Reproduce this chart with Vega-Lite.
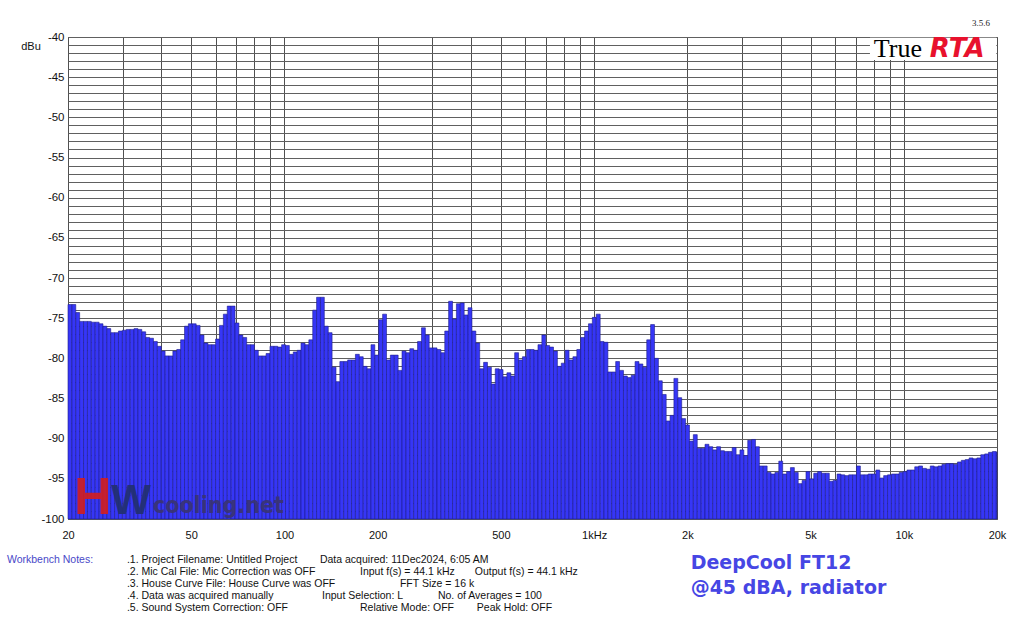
{
  "$schema": "https://vega.github.io/schema/vega-lite/v6.json",
  "width": 929,
  "height": 482,
  "autosize": {"type": "none"},
  "padding": {"left": 68, "top": 37, "right": 27, "bottom": 105},
  "background": "white",
  "config": {
    "view": {"stroke": "#444444", "strokeWidth": 1},
    "font": "Liberation Sans",
    "text": {"font": "Liberation Sans"}
  },
  "data": {"values": [{}]},
  "layer": [
    {
      "data": {"values": [
        {"lo": 20, "hi": 20.59, "db": -73.3}, {"lo": 20.59, "hi": 21.19, "db": -73.3}, {"lo": 21.19, "hi": 21.81, "db": -74.3}, {"lo": 21.81, "hi": 22.45, "db": -75.4},
        {"lo": 22.45, "hi": 23.11, "db": -75.4}, {"lo": 23.11, "hi": 23.78, "db": -75.4}, {"lo": 23.78, "hi": 24.48, "db": -75.5}, {"lo": 24.48, "hi": 25.2, "db": -75.5},
        {"lo": 25.2, "hi": 25.94, "db": -75.7}, {"lo": 25.94, "hi": 26.7, "db": -76.0}, {"lo": 26.7, "hi": 27.48, "db": -76.3}, {"lo": 27.48, "hi": 28.28, "db": -76.8},
        {"lo": 28.28, "hi": 29.11, "db": -76.8}, {"lo": 29.11, "hi": 29.97, "db": -76.6}, {"lo": 29.97, "hi": 30.84, "db": -76.5}, {"lo": 30.84, "hi": 31.75, "db": -76.4},
        {"lo": 31.75, "hi": 32.68, "db": -76.4}, {"lo": 32.68, "hi": 33.64, "db": -76.3}, {"lo": 33.64, "hi": 34.62, "db": -76.4}, {"lo": 34.62, "hi": 35.64, "db": -76.7},
        {"lo": 35.64, "hi": 36.68, "db": -77.4}, {"lo": 36.68, "hi": 37.76, "db": -77.5}, {"lo": 37.76, "hi": 38.86, "db": -77.9}, {"lo": 38.86, "hi": 40, "db": -78.5},
        {"lo": 40, "hi": 41.17, "db": -79.1}, {"lo": 41.17, "hi": 42.38, "db": -79.7}, {"lo": 42.38, "hi": 43.62, "db": -79.7}, {"lo": 43.62, "hi": 44.9, "db": -79.1},
        {"lo": 44.9, "hi": 46.21, "db": -78.9}, {"lo": 46.21, "hi": 47.57, "db": -77.7}, {"lo": 47.57, "hi": 48.96, "db": -76.0}, {"lo": 48.96, "hi": 50.4, "db": -75.7},
        {"lo": 50.4, "hi": 51.87, "db": -75.7}, {"lo": 51.87, "hi": 53.39, "db": -75.9}, {"lo": 53.39, "hi": 54.96, "db": -77.1}, {"lo": 54.96, "hi": 56.57, "db": -78.1},
        {"lo": 56.57, "hi": 58.23, "db": -78.3}, {"lo": 58.23, "hi": 59.93, "db": -78.3}, {"lo": 59.93, "hi": 61.69, "db": -77.6}, {"lo": 61.69, "hi": 63.5, "db": -75.9},
        {"lo": 63.5, "hi": 65.36, "db": -74.5}, {"lo": 65.36, "hi": 67.27, "db": -73.5}, {"lo": 67.27, "hi": 69.24, "db": -73.5}, {"lo": 69.24, "hi": 71.27, "db": -75.6},
        {"lo": 71.27, "hi": 73.36, "db": -77.1}, {"lo": 73.36, "hi": 75.51, "db": -77.4}, {"lo": 75.51, "hi": 77.72, "db": -78.3}, {"lo": 77.72, "hi": 80, "db": -78.3},
        {"lo": 80, "hi": 82.34, "db": -79.0}, {"lo": 82.34, "hi": 84.76, "db": -79.7}, {"lo": 84.76, "hi": 87.24, "db": -79.7}, {"lo": 87.24, "hi": 89.8, "db": -79.4},
        {"lo": 89.8, "hi": 92.43, "db": -78.5}, {"lo": 92.43, "hi": 95.14, "db": -78.5}, {"lo": 95.14, "hi": 97.92, "db": -78.6}, {"lo": 97.92, "hi": 100.8, "db": -78.3},
        {"lo": 100.8, "hi": 103.7, "db": -78.4}, {"lo": 103.7, "hi": 106.8, "db": -79.5}, {"lo": 106.8, "hi": 109.9, "db": -79.2}, {"lo": 109.9, "hi": 113.1, "db": -79.0},
        {"lo": 113.1, "hi": 116.5, "db": -78.1}, {"lo": 116.5, "hi": 119.9, "db": -78.3}, {"lo": 119.9, "hi": 123.4, "db": -77.7}, {"lo": 123.4, "hi": 127, "db": -74.0},
        {"lo": 127, "hi": 130.7, "db": -72.4}, {"lo": 130.7, "hi": 134.5, "db": -72.4}, {"lo": 134.5, "hi": 138.5, "db": -76.0}, {"lo": 138.5, "hi": 142.5, "db": -76.8},
        {"lo": 142.5, "hi": 146.7, "db": -81.1}, {"lo": 146.7, "hi": 151, "db": -82.9}, {"lo": 151, "hi": 155.4, "db": -80.4}, {"lo": 155.4, "hi": 160, "db": -80.4},
        {"lo": 160, "hi": 164.7, "db": -80.2}, {"lo": 164.7, "hi": 169.5, "db": -80.2}, {"lo": 169.5, "hi": 174.5, "db": -79.5}, {"lo": 174.5, "hi": 179.6, "db": -79.8},
        {"lo": 179.6, "hi": 184.9, "db": -81.0}, {"lo": 184.9, "hi": 190.3, "db": -81.3}, {"lo": 190.3, "hi": 195.8, "db": -78.3}, {"lo": 195.8, "hi": 201.6, "db": -79.6},
        {"lo": 201.6, "hi": 207.5, "db": -75.2}, {"lo": 207.5, "hi": 213.6, "db": -74.5}, {"lo": 213.6, "hi": 219.8, "db": -80.2}, {"lo": 219.8, "hi": 226.3, "db": -79.6},
        {"lo": 226.3, "hi": 232.9, "db": -79.6}, {"lo": 232.9, "hi": 239.7, "db": -81.5}, {"lo": 239.7, "hi": 246.8, "db": -79.1}, {"lo": 246.8, "hi": 254, "db": -79.3},
        {"lo": 254, "hi": 261.4, "db": -78.8}, {"lo": 261.4, "hi": 269.1, "db": -79.0}, {"lo": 269.1, "hi": 277, "db": -77.9}, {"lo": 277, "hi": 285.1, "db": -76.2},
        {"lo": 285.1, "hi": 293.4, "db": -77.1}, {"lo": 293.4, "hi": 302, "db": -78.7}, {"lo": 302, "hi": 310.9, "db": -78.7}, {"lo": 310.9, "hi": 320, "db": -78.9},
        {"lo": 320, "hi": 329.4, "db": -79.3}, {"lo": 329.4, "hi": 339, "db": -76.6}, {"lo": 339, "hi": 349, "db": -72.9}, {"lo": 349, "hi": 359.2, "db": -75.1},
        {"lo": 359.2, "hi": 369.7, "db": -73.2}, {"lo": 369.7, "hi": 380.5, "db": -73.1}, {"lo": 380.5, "hi": 391.7, "db": -74.6}, {"lo": 391.7, "hi": 403.2, "db": -73.7},
        {"lo": 403.2, "hi": 415, "db": -76.6}, {"lo": 415, "hi": 427.1, "db": -78.1}, {"lo": 427.1, "hi": 439.7, "db": -81.3}, {"lo": 439.7, "hi": 452.5, "db": -80.5},
        {"lo": 452.5, "hi": 465.8, "db": -81.1}, {"lo": 465.8, "hi": 479.5, "db": -83.2}, {"lo": 479.5, "hi": 493.5, "db": -81.3}, {"lo": 493.5, "hi": 508, "db": -81.4},
        {"lo": 508, "hi": 522.9, "db": -82.3}, {"lo": 522.9, "hi": 538.2, "db": -81.8}, {"lo": 538.2, "hi": 553.9, "db": -82.2}, {"lo": 553.9, "hi": 570.2, "db": -79.3},
        {"lo": 570.2, "hi": 586.9, "db": -80.2}, {"lo": 586.9, "hi": 604.1, "db": -79.8}, {"lo": 604.1, "hi": 621.8, "db": -78.9}, {"lo": 621.8, "hi": 640, "db": -78.9},
        {"lo": 640, "hi": 658.8, "db": -79.0}, {"lo": 658.8, "hi": 678.1, "db": -78.3}, {"lo": 678.1, "hi": 697.9, "db": -77.1}, {"lo": 697.9, "hi": 718.4, "db": -78.4},
        {"lo": 718.4, "hi": 739.4, "db": -78.6}, {"lo": 739.4, "hi": 761.1, "db": -79.1}, {"lo": 761.1, "hi": 783.4, "db": -81.0}, {"lo": 783.4, "hi": 806.3, "db": -80.6},
        {"lo": 806.3, "hi": 830, "db": -79.0}, {"lo": 830, "hi": 854.3, "db": -80.2}, {"lo": 854.3, "hi": 879.3, "db": -79.8}, {"lo": 879.3, "hi": 905.1, "db": -78.9},
        {"lo": 905.1, "hi": 931.6, "db": -77.4}, {"lo": 931.6, "hi": 958.9, "db": -76.6}, {"lo": 958.9, "hi": 987, "db": -75.7}, {"lo": 987, "hi": 1016, "db": -74.9},
        {"lo": 1016, "hi": 1046, "db": -74.5}, {"lo": 1046, "hi": 1076, "db": -77.9}, {"lo": 1076, "hi": 1108, "db": -78.0}, {"lo": 1108, "hi": 1140, "db": -81.7},
        {"lo": 1140, "hi": 1174, "db": -81.7}, {"lo": 1174, "hi": 1208, "db": -80.4}, {"lo": 1208, "hi": 1244, "db": -81.5}, {"lo": 1244, "hi": 1280, "db": -82.2},
        {"lo": 1280, "hi": 1318, "db": -82.4}, {"lo": 1318, "hi": 1356, "db": -82.1}, {"lo": 1356, "hi": 1396, "db": -80.4}, {"lo": 1396, "hi": 1437, "db": -80.7},
        {"lo": 1437, "hi": 1479, "db": -81.1}, {"lo": 1479, "hi": 1522, "db": -77.7}, {"lo": 1522, "hi": 1567, "db": -75.8}, {"lo": 1567, "hi": 1613, "db": -80.0},
        {"lo": 1613, "hi": 1660, "db": -82.8}, {"lo": 1660, "hi": 1709, "db": -84.5}, {"lo": 1709, "hi": 1759, "db": -87.8}, {"lo": 1759, "hi": 1810, "db": -87.1},
        {"lo": 1810, "hi": 1863, "db": -82.5}, {"lo": 1863, "hi": 1918, "db": -84.9}, {"lo": 1918, "hi": 1974, "db": -87.5}, {"lo": 1974, "hi": 2032, "db": -88.3},
        {"lo": 2032, "hi": 2091, "db": -90.3}, {"lo": 2091, "hi": 2153, "db": -89.5}, {"lo": 2153, "hi": 2216, "db": -91.2}, {"lo": 2216, "hi": 2281, "db": -91.2},
        {"lo": 2281, "hi": 2348, "db": -90.7}, {"lo": 2348, "hi": 2416, "db": -91.0}, {"lo": 2416, "hi": 2487, "db": -91.4}, {"lo": 2487, "hi": 2560, "db": -91.0},
        {"lo": 2560, "hi": 2635, "db": -91.5}, {"lo": 2635, "hi": 2712, "db": -91.6}, {"lo": 2712, "hi": 2792, "db": -91.6}, {"lo": 2792, "hi": 2874, "db": -91.1},
        {"lo": 2874, "hi": 2958, "db": -92.0}, {"lo": 2958, "hi": 3044, "db": -91.4}, {"lo": 3044, "hi": 3134, "db": -92.1}, {"lo": 3134, "hi": 3225, "db": -90.2},
        {"lo": 3225, "hi": 3320, "db": -90.1}, {"lo": 3320, "hi": 3417, "db": -91.0}, {"lo": 3417, "hi": 3517, "db": -93.4}, {"lo": 3517, "hi": 3620, "db": -93.4},
        {"lo": 3620, "hi": 3727, "db": -94.2}, {"lo": 3727, "hi": 3836, "db": -94.4}, {"lo": 3836, "hi": 3948, "db": -94.2}, {"lo": 3948, "hi": 4064, "db": -92.8},
        {"lo": 4064, "hi": 4183, "db": -94.4}, {"lo": 4183, "hi": 4305, "db": -94.1}, {"lo": 4305, "hi": 4432, "db": -93.6}, {"lo": 4432, "hi": 4561, "db": -94.2},
        {"lo": 4561, "hi": 4695, "db": -95.6}, {"lo": 4695, "hi": 4833, "db": -95.2}, {"lo": 4833, "hi": 4974, "db": -94.1}, {"lo": 4974, "hi": 5120, "db": -95.0},
        {"lo": 5120, "hi": 5270, "db": -94.3}, {"lo": 5270, "hi": 5424, "db": -94.1}, {"lo": 5424, "hi": 5583, "db": -94.3}, {"lo": 5583, "hi": 5747, "db": -94.3},
        {"lo": 5747, "hi": 5915, "db": -95.3}, {"lo": 5915, "hi": 6089, "db": -95.2}, {"lo": 6089, "hi": 6267, "db": -94.4}, {"lo": 6267, "hi": 6451, "db": -94.5},
        {"lo": 6451, "hi": 6640, "db": -94.6}, {"lo": 6640, "hi": 6834, "db": -94.5}, {"lo": 6834, "hi": 7035, "db": -94.5}, {"lo": 7035, "hi": 7241, "db": -93.4},
        {"lo": 7241, "hi": 7453, "db": -94.5}, {"lo": 7453, "hi": 7671, "db": -94.5}, {"lo": 7671, "hi": 7896, "db": -94.4}, {"lo": 7896, "hi": 8127, "db": -94.4},
        {"lo": 8127, "hi": 8366, "db": -93.9}, {"lo": 8366, "hi": 8611, "db": -94.9}, {"lo": 8611, "hi": 8863, "db": -94.6}, {"lo": 8863, "hi": 9123, "db": -94.5},
        {"lo": 9123, "hi": 9390, "db": -94.4}, {"lo": 9390, "hi": 9665, "db": -94.4}, {"lo": 9665, "hi": 9949, "db": -94.2}, {"lo": 9949, "hi": 10240, "db": -94.1},
        {"lo": 10240, "hi": 10540, "db": -93.9}, {"lo": 10540, "hi": 10849, "db": -93.9}, {"lo": 10849, "hi": 11167, "db": -93.5}, {"lo": 11167, "hi": 11494, "db": -93.4},
        {"lo": 11494, "hi": 11831, "db": -93.7}, {"lo": 11831, "hi": 12177, "db": -93.8}, {"lo": 12177, "hi": 12534, "db": -93.4}, {"lo": 12534, "hi": 12902, "db": -93.5},
        {"lo": 12902, "hi": 13280, "db": -93.4}, {"lo": 13280, "hi": 13669, "db": -93.2}, {"lo": 13669, "hi": 14069, "db": -93.1}, {"lo": 14069, "hi": 14482, "db": -93.1},
        {"lo": 14482, "hi": 14906, "db": -93.2}, {"lo": 14906, "hi": 15343, "db": -92.9}, {"lo": 15343, "hi": 15792, "db": -92.7}, {"lo": 15792, "hi": 16255, "db": -92.6},
        {"lo": 16255, "hi": 16731, "db": -92.4}, {"lo": 16731, "hi": 17222, "db": -92.5}, {"lo": 17222, "hi": 17726, "db": -92.4}, {"lo": 17726, "hi": 18246, "db": -92.0},
        {"lo": 18246, "hi": 18780, "db": -91.9}, {"lo": 18780, "hi": 19331, "db": -91.7}, {"lo": 19331, "hi": 19898, "db": -91.6}, {"lo": 19898, "hi": 20000, "db": -91.7}
      ]},
      "mark": {"type": "bar", "fill": "#3636f6", "stroke": "#1c1c8c", "strokeWidth": 0.6},
      "encoding": {
        "x": {
          "field": "lo",
          "type": "quantitative",
          "scale": {"type": "log", "domain": [20, 20000], "nice": false},
          "axis": {
            "title": null,
            "values": [20, 30, 40, 50, 60, 70, 80, 90, 100, 200, 300, 400, 500, 600, 700, 800, 900, 1000, 2000, 3000, 4000, 5000, 6000, 7000, 8000, 9000, 10000, 20000],
            "tickCount": 100,
            "labelExpr": "datum.value == 1000 ? '1kHz' : indexof([2000, 5000, 10000, 20000], datum.value) >= 0 ? (datum.value / 1000) + 'k' : indexof([20, 50, 100, 200, 500], datum.value) >= 0 ? '' + datum.value : ''",
            "labelOverlap": false,
            "labelFlush": false,
            "ticks": false,
            "domain": false,
            "grid": true,
            "gridColor": "#505050",
            "gridOpacity": 1,
            "labelFontSize": 11,
            "labelColor": "#111111",
            "labelPadding": 10
          }
        },
        "x2": {"field": "hi"},
        "y": {
          "field": "db",
          "type": "quantitative",
          "scale": {"domain": [-100, -40], "nice": false, "zero": false},
          "axis": {
            "title": null,
            "values": [-100, -99, -98, -97, -96, -95, -94, -93, -92, -91, -90, -89, -88, -87, -86, -85, -84, -83, -82, -81, -80, -79, -78, -77, -76, -75, -74, -73, -72, -71, -70, -69, -68, -67, -66, -65, -64, -63, -62, -61, -60, -59, -58, -57, -56, -55, -54, -53, -52, -51, -50, -49, -48, -47, -46, -45, -44, -43, -42, -41, -40],
            "tickCount": 200,
            "labelExpr": "datum.value % 5 == 0 ? '' + datum.value : ''",
            "labelOverlap": false,
            "ticks": false,
            "domain": false,
            "grid": true,
            "gridColor": "#606060",
            "gridOpacity": 1,
            "labelFontSize": 11.5,
            "labelColor": "#111111",
            "labelPadding": 4
          }
        },
        "y2": {"datum": -100}
      }
    },
    {
      "mark": {"type": "rect", "fill": "white"},
      "encoding": {"x": {"datum": 7776}, "x2": {"datum": 19900}, "y": {"datum": -40.1}, "y2": {"datum": -42.86}}
    },
    {
      "mark": {"type": "text", "text": "True", "font": "Liberation Serif", "fontSize": 26, "align": "left", "baseline": "alphabetic", "fill": "black"},
      "encoding": {"x": {"datum": 8000}, "y": {"datum": -42.45}}
    },
    {
      "mark": {"type": "text", "text": "RTA", "font": "DejaVu Sans", "fontWeight": "bold", "fontStyle": "italic", "fontSize": 26, "align": "left", "baseline": "alphabetic", "fill": "#e8112d"},
      "encoding": {"x": {"datum": 12140}, "y": {"datum": -42.45}}
    },
    {
      "mark": {"type": "text", "text": "3.5.6", "font": "Liberation Serif", "fontSize": 9, "align": "right", "baseline": "middle", "fill": "#222222"},
      "encoding": {"x": {"datum": 18970}, "y": {"datum": -38.26}}
    },
    {
      "mark": {"type": "text", "text": "dBu", "fontSize": 11, "align": "center", "baseline": "middle", "fill": "#111111"},
      "encoding": {"x": {"datum": 15.19}, "y": {"datum": -41.24}}
    },
    {
      "mark": {"type": "text", "text": "H", "fontSize": 52, "fontWeight": "bold", "align": "left", "baseline": "alphabetic", "fill": "#d41e1e", "opacity": 0.9},
      "encoding": {"x": {"datum": 20.9}, "y": {"datum": -99.38}}
    },
    {
      "mark": {"type": "text", "text": "W", "fontSize": 42, "fontWeight": "bold", "align": "left", "baseline": "alphabetic", "fill": "#22306e", "opacity": 0.9},
      "encoding": {"x": {"datum": 27.6}, "y": {"datum": -99.38}}
    },
    {
      "mark": {"type": "text", "text": "cooling.net", "font": "DejaVu Sans Condensed", "fontSize": 23, "fontWeight": "bold", "align": "left", "baseline": "alphabetic", "fill": "#3a3470", "opacity": 0.9},
      "encoding": {"x": {"datum": 37.6}, "y": {"datum": -99.26}}
    },
    {
      "mark": {"type": "text", "text": "Workbench Notes:", "fontSize": 10.5, "align": "left", "baseline": "middle", "fill": "#4848c8"},
      "encoding": {"x": {"datum": 12.7}, "y": {"datum": -105.11}}
    },
    {
      "mark": {"type": "text", "text": ".1. Project Filename: Untitled Project", "fontSize": 10.5, "align": "left", "baseline": "middle", "fill": "#111111"},
      "encoding": {"x": {"datum": 31.0}, "y": {"datum": -105.11}}
    },
    {
      "mark": {"type": "text", "text": ".2. Mic Cal File: Mic Correction was OFF", "fontSize": 10.5, "align": "left", "baseline": "middle", "fill": "#111111"},
      "encoding": {"x": {"datum": 31.0}, "y": {"datum": -106.6}}
    },
    {
      "mark": {"type": "text", "text": ".3. House Curve File: House Curve was OFF", "fontSize": 10.5, "align": "left", "baseline": "middle", "fill": "#111111"},
      "encoding": {"x": {"datum": 31.0}, "y": {"datum": -108.09}}
    },
    {
      "mark": {"type": "text", "text": ".4. Data was acquired manually", "fontSize": 10.5, "align": "left", "baseline": "middle", "fill": "#111111"},
      "encoding": {"x": {"datum": 31.0}, "y": {"datum": -109.58}}
    },
    {
      "mark": {"type": "text", "text": ".5. Sound System Correction: OFF", "fontSize": 10.5, "align": "left", "baseline": "middle", "fill": "#111111"},
      "encoding": {"x": {"datum": 31.0}, "y": {"datum": -111.07}}
    },
    {
      "mark": {"type": "text", "text": "Data acquired: 11Dec2024, 6:05 AM", "fontSize": 10.5, "align": "left", "baseline": "middle", "fill": "#111111"},
      "encoding": {"x": {"datum": 130.2}, "y": {"datum": -105.11}}
    },
    {
      "mark": {"type": "text", "text": "Input f(s) = 44.1 kHz", "fontSize": 10.5, "align": "left", "baseline": "middle", "fill": "#111111"},
      "encoding": {"x": {"datum": 175.4}, "y": {"datum": -106.6}}
    },
    {
      "mark": {"type": "text", "text": "Output f(s) = 44.1 kHz", "fontSize": 10.5, "align": "left", "baseline": "middle", "fill": "#111111"},
      "encoding": {"x": {"datum": 412}, "y": {"datum": -106.6}}
    },
    {
      "mark": {"type": "text", "text": "FFT Size = 16 k", "fontSize": 10.5, "align": "left", "baseline": "middle", "fill": "#111111"},
      "encoding": {"x": {"datum": 236}, "y": {"datum": -108.09}}
    },
    {
      "mark": {"type": "text", "text": "Input Selection: L", "fontSize": 10.5, "align": "left", "baseline": "middle", "fill": "#111111"},
      "encoding": {"x": {"datum": 132.2}, "y": {"datum": -109.58}}
    },
    {
      "mark": {"type": "text", "text": "No. of Averages = 100", "fontSize": 10.5, "align": "left", "baseline": "middle", "fill": "#111111"},
      "encoding": {"x": {"datum": 313}, "y": {"datum": -109.58}}
    },
    {
      "mark": {"type": "text", "text": "Relative Mode:  OFF", "fontSize": 10.5, "align": "left", "baseline": "middle", "fill": "#111111"},
      "encoding": {"x": {"datum": 175.4}, "y": {"datum": -111.07}}
    },
    {
      "mark": {"type": "text", "text": "Peak Hold: OFF", "fontSize": 10.5, "align": "left", "baseline": "middle", "fill": "#111111"},
      "encoding": {"x": {"datum": 418}, "y": {"datum": -111.07}}
    },
    {
      "mark": {"type": "text", "text": "DeepCool FT12", "font": "DejaVu Sans", "fontSize": 19, "fontWeight": "bold", "align": "left", "baseline": "middle", "fill": "#4646e4"},
      "encoding": {"x": {"datum": 2050}, "y": {"datum": -105.48}}
    },
    {
      "mark": {"type": "text", "text": "@45 dBA, radiator", "font": "DejaVu Sans", "fontSize": 19, "fontWeight": "bold", "align": "left", "baseline": "middle", "fill": "#4646e4"},
      "encoding": {"x": {"datum": 2050}, "y": {"datum": -108.59}}
    }
  ]
}
